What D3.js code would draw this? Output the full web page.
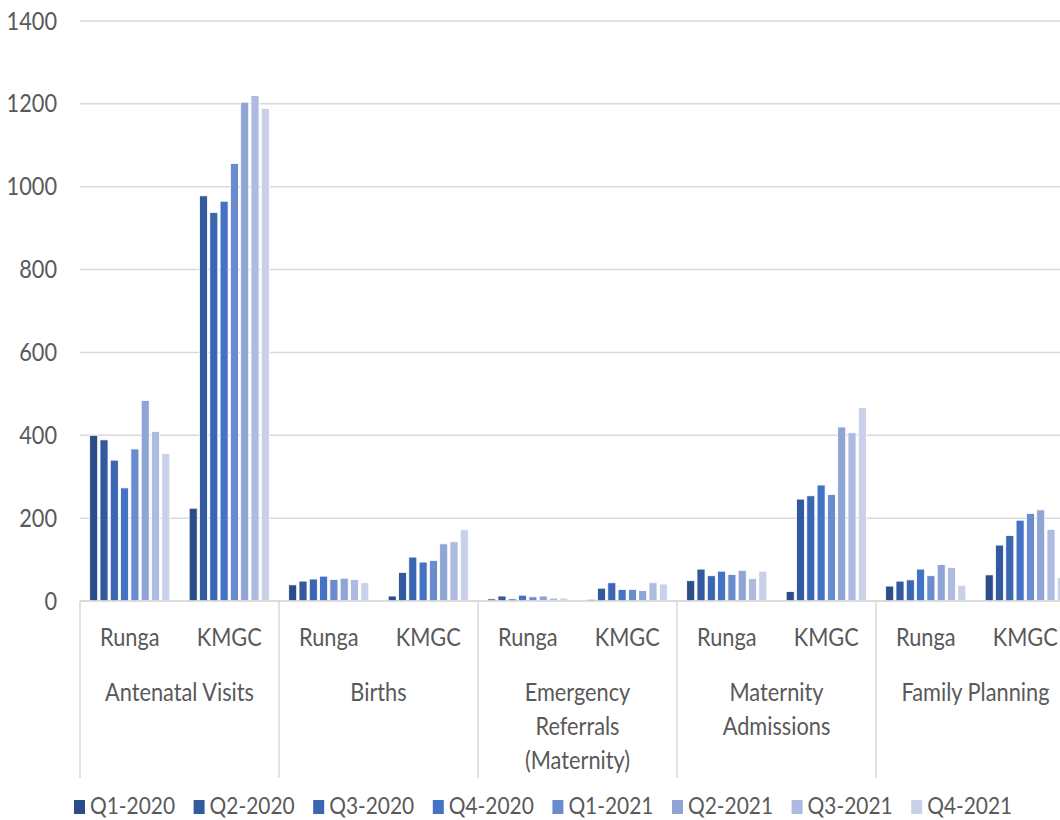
<!DOCTYPE html>
<html>
<head>
<meta charset="utf-8">
<script src="https://cdn.jsdelivr.net/npm/d3@7"></script>
<style>
  html, body { margin: 0; padding: 0; background: #ffffff; overflow: hidden; }
  svg text { font-family: Lato, "Open Sans", sans-serif; fill: #595959; }
</style>
</head>
<body>
<svg id="chart" width="1060" height="820"></svg>
<script>
// Service categories and their wrapped label lines
const services = ["Antenatal Visits", "Births", "Emergency Referrals (Maternity)", "Maternity Admissions", "Family Planning"];
const serviceLines = [["Antenatal Visits"], ["Births"], ["Emergency", "Referrals", "(Maternity)"], ["Maternity", "Admissions"], ["Family Planning"]];
const facilities = ["Runga", "KMGC"];
const quarters = ["Q1-2020", "Q2-2020", "Q3-2020", "Q4-2020", "Q1-2021", "Q2-2021", "Q3-2021", "Q4-2021"];
const yTicks = [0, 200, 400, 600, 800, 1000, 1200, 1400];

// Quarterly counts, Q1-2020 .. Q4-2021
const antenatalRunga  = [400, 389, 340, 273, 367, 484, 409, 356];
const antenatalKMGC   = [224, 978, 938, 965, 1056, 1204, 1220, 1189];
const birthsRunga     = [39, 48, 53, 60, 52, 55, 52, 44];
const birthsKMGC      = [12, 69, 106, 94, 98, 138, 143, 172];
const referralsRunga  = [5, 12, 5, 14, 10, 12, 7, 7];
const referralsKMGC   = [4, 31, 44, 28, 28, 25, 44, 41];
const admissionsRunga = [49, 77, 61, 72, 64, 74, 54, 72];
const admissionsKMGC  = [23, 246, 254, 280, 257, 420, 406, 467];
const planningRunga   = [36, 48, 51, 77, 61, 88, 81, 38];
const planningKMGC    = [63, 135, 158, 195, 211, 220, 173, 57];

const quarterColors = ["#2c4d87", "#335a9f", "#3b66b2", "#4472c4", "#6a8bcd", "#8fa5d6", "#aebbe0", "#c9d1ea"];

const seriesByService = [
  [antenatalRunga, antenatalKMGC],
  [birthsRunga, birthsKMGC],
  [referralsRunga, referralsKMGC],
  [admissionsRunga, admissionsKMGC],
  [planningRunga, planningKMGC]
];

// Flatten into one row per bar
const rows = [];
services.forEach((s, si) => {
  facilities.forEach((f, fi) => {
    quarters.forEach((q, qi) => {
      rows.push({ service: s, facility: f, quarter: q, value: seriesByService[si][fi][qi] });
    });
  });
});

const svg = d3.select("#chart");
const plotLeft = 80, plotTop = 21, plotBottom = 601, catWidth = 199;
const plotRight = plotLeft + catWidth * services.length;
const fontSize = "25px";
const squeeze = 0.87;   // narrow the glyphs to a condensed look

const y = d3.scaleLinear().domain([0, 1400]).range([plotBottom, plotTop]);
const xCat = d3.scaleBand().domain(services).range([plotLeft, plotRight]);
const xFac = d3.scaleBand().domain(facilities).range([0, xCat.bandwidth()]);
const xQ = d3.scaleBand().domain(quarters).range([0, xFac.bandwidth()])
  .paddingInner(0.22).paddingOuter(0.94);
const color = d3.scaleOrdinal().domain(quarters).range(quarterColors);

// Horizontal gridlines
svg.append("g")
  .selectAll("line")
  .data(yTicks)
  .join("line")
  .attr("x1", plotLeft).attr("x2", 1060)
  .attr("y1", d => y(d)).attr("y2", d => y(d))
  .attr("stroke", "#d9d9d9").attr("stroke-width", 1.5);

// Y axis labels
const yAxis = svg.append("g")
  .attr("transform", `translate(${plotLeft},0)`)
  .call(d3.axisLeft(y).tickValues(yTicks).tickSize(0).tickPadding(23).tickFormat(d3.format("d")));
yAxis.select(".domain").remove();
yAxis.selectAll("text")
  .attr("x", -23 / squeeze)
  .attr("transform", `scale(${squeeze},1)`)
  .style("font-size", fontSize)
  .style("font-family", "Lato, 'Open Sans', sans-serif")
  .attr("fill", "#595959");

// Bars
svg.append("g")
  .selectAll("rect")
  .data(rows)
  .join("rect")
  .attr("x", d => xCat(d.service) + xFac(d.facility) + xQ(d.quarter))
  .attr("width", xQ.bandwidth())
  .attr("y", d => y(d.value))
  .attr("height", d => y(0) - y(d.value))
  .attr("fill", d => color(d.quarter))
  .attr("stroke", "#ffffff")
  .attr("stroke-width", 0.8);

// Category axis: baseline and separators
svg.append("line")
  .attr("x1", plotLeft).attr("x2", 1060)
  .attr("y1", plotBottom).attr("y2", plotBottom)
  .attr("stroke", "#d9d9d9").attr("stroke-width", 1.5);

const separators = services.map(s => xCat(s)).concat([plotRight]);
svg.append("g")
  .selectAll("line")
  .data(separators)
  .join("line")
  .attr("x1", d => d).attr("x2", d => d)
  .attr("y1", plotBottom).attr("y2", 778)
  .attr("stroke", "#d9d9d9").attr("stroke-width", 1.5);

// Facility labels
const facLabels = [];
services.forEach(s => facilities.forEach(f => facLabels.push({ service: s, facility: f })));
svg.append("g")
  .selectAll("text")
  .data(facLabels)
  .join("text")
  .attr("transform", d => `translate(${xCat(d.service) + xFac(d.facility) + xFac.bandwidth() / 2},646) scale(${squeeze},1)`)
  .attr("text-anchor", "middle")
  .style("font-size", fontSize)
  .text(d => d.facility);

// Service labels (wrapped)
const svcG = svg.append("g")
  .selectAll("text")
  .data(services)
  .join("text")
  .attr("transform", d => `translate(${xCat(d) + xCat.bandwidth() / 2},0) scale(${squeeze},1)`)
  .attr("text-anchor", "middle")
  .style("font-size", fontSize);
svcG.selectAll("tspan")
  .data((d, i) => serviceLines[i])
  .join("tspan")
  .attr("x", 0)
  .attr("y", (d, i) => 701 + i * 34)
  .text(d => d);

// Legend
const legend = svg.append("g")
  .selectAll("g")
  .data(quarters)
  .join("g")
  .attr("transform", (d, i) => `translate(${74 + i * 119.6},0)`);
legend.append("rect")
  .attr("x", 0).attr("y", 800)
  .attr("width", 11).attr("height", 14)
  .attr("fill", d => color(d));
legend.append("text")
  .attr("transform", `translate(16,814) scale(${squeeze},1)`)
  .style("font-size", "24px")
  .text(d => d);
</script>
</body>
</html>
